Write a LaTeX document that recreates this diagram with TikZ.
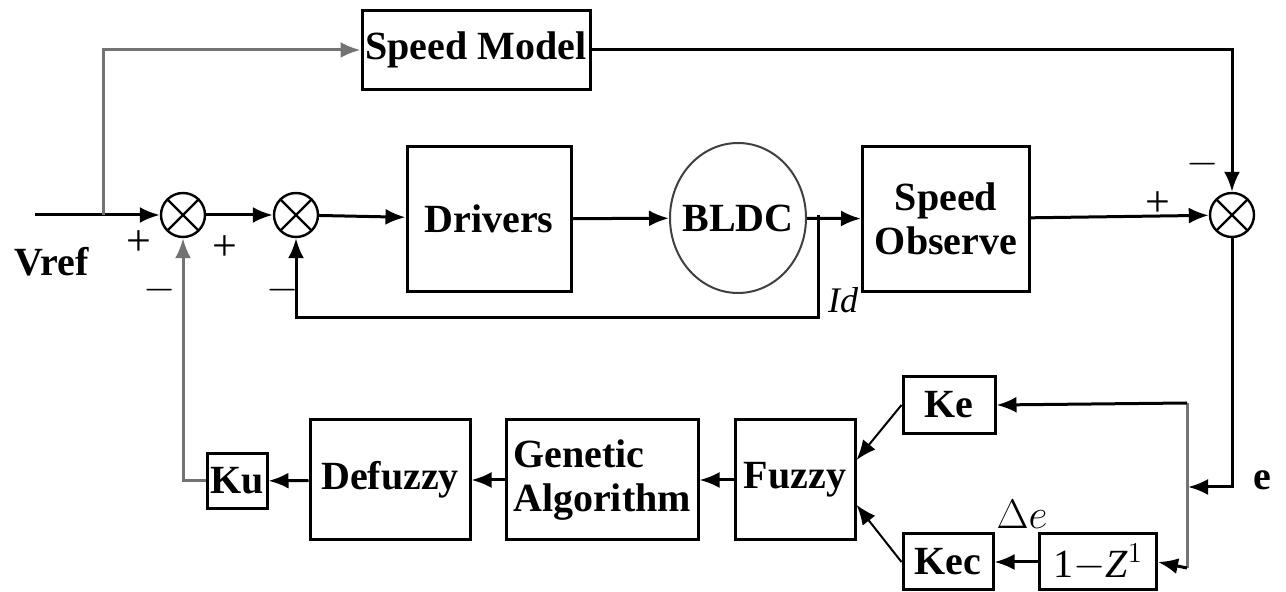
\documentclass[tikz,border=0pt]{standalone}
\usepackage{fontspec}
\setmainfont{Liberation Serif}
\usetikzlibrary{shapes,arrows.meta}

\begin{document}
\begin{tikzpicture}[x=0.5pt, y=-0.5pt, line width=1.5pt, font=\fontsize{20}{22}\selectfont\bfseries]
        \tikzstyle{block} = [rectangle, draw, inner sep=0pt, align=center]
        \tikzstyle{sum} = [circle, draw, line width=1.2pt, minimum size=22pt, inner sep=0pt,
            path picture={\draw[line width=1.2pt] (path picture bounding box.north west) -- (path picture bounding box.south east)
                (path picture bounding box.north east) -- (path picture bounding box.south west);}]
        \tikzstyle{line} = [draw, -{Latex[length=10pt,width=8pt]}]
        \tikzstyle{sign} = [font=\fontsize{22}{22}\selectfont]
        \tikzstyle{grayline} = [draw=black!55]

        \useasboundingbox (0,0) rectangle (1286,592);

        % forward path
        \node [block, minimum width=114pt, minimum height=39.5pt] (model) at (476,50) {Speed Model};
        \node [sum] (sum1) at (183,215) {};
        \node [sum] (sum2) at (296,215) {};
        \node [block, minimum width=82pt, minimum height=72.5pt] (drivers) at (489,219) {Drivers};
        \node [ellipse, draw=black!75, line width=1pt, minimum width=68pt, minimum height=75pt, inner sep=0pt] (bldc) at (738,218) {\makebox[0pt]{BLDC}};
        \node [block, minimum width=83.5pt, minimum height=72.5pt] (observe) at (946,219) {Speed\\Observe};
        \node [sum] (sum3) at (1232,215) {};

        % fuzzy tuning loop
        \node [block, minimum width=46pt, minimum height=28.5pt] (ke) at (949,405) {Ke};
        \node [block, minimum width=45pt, minimum height=28pt] (kec) at (948,562) {Kec};
        \node [block, minimum width=58.5pt, minimum height=28pt, font=\fontsize{20}{22}\selectfont\mdseries] (dz) at (1098,562) {1$-$\textit{Z}$^{1}$};
        \node [block, minimum width=60pt, minimum height=60pt] (fuzzy) at (795,480) {Fuzzy};
        \node [block, minimum width=96pt, minimum height=60pt, align=left] (ga) at (602,480) {Genetic\\Algorithm};
        \node [block, minimum width=80pt, minimum height=60pt] (defuzzy) at (390,480) {Defuzzy};
        \node [block, minimum width=30pt, minimum height=27.5pt] (ku) at (237,481) {Ku};

        % labels
        \node (vref) at (52,262) {Vref};
        \node (elabel) at (1262,480) {e};
        \node [font=\fontsize{18}{20}\selectfont\itshape] (id) at (843,300) {Id};
        \node [font=\fontsize{20}{22}\selectfont\itshape] (de) at (1022,514) {$\Delta e$};
        \node [sign] at (139,243) {+};
        \node [sign] at (225,248) {+};
        \node [sign] at (160,290) {$-$};
        \node [sign] at (283,290) {$-$};
        \node [sign] at (1158,204) {+};
        \node [sign] at (1203,164) {$-$};

        \coordinate (in) at (35,215);
        \coordinate (br) at (103,215);
        \coordinate (tap) at (818,215);
        \coordinate (fb) at (818,318);
        \coordinate (ej) at (1188,487);
        \coordinate (etop) at (1187,403);
        \coordinate (ebot) at (1187,568);

        \path [line] (in) -- (sum1);
        \path [line, grayline] (br) |- (model.west);
        \path [line] (sum1) -- (sum2);
        \path [line] (sum2) -- (drivers);
        \path [line] (drivers) -- (bldc);
        \path [line] (bldc) -- (observe);
        \path [line] (tap) -- (fb) -| (sum2.south);
        \path [line] (model.east) -| (sum3.north);
        \path [line] (observe) -- (sum3);
        \path [line] (sum3.south) |- (ej);
        \path [grayline] (etop) -- (ebot);
        \path [line] (etop) -- (ke.east);
        \path [line] (ebot) -- (dz.east);
        \path [line] (dz) -- (kec);
        \path [line, line width=1pt] (ke.west) -- (fuzzy.18);
        \path [line, line width=1pt] (kec.west) -- (fuzzy.-22);
        \path [line] (fuzzy) -- (ga);
        \path [line] (ga) -- (defuzzy);
        \path [line] (defuzzy) -- (ku);
        \path [line, grayline] (ku.west) -| (sum1.south);
    \end{tikzpicture}
\end{document}
